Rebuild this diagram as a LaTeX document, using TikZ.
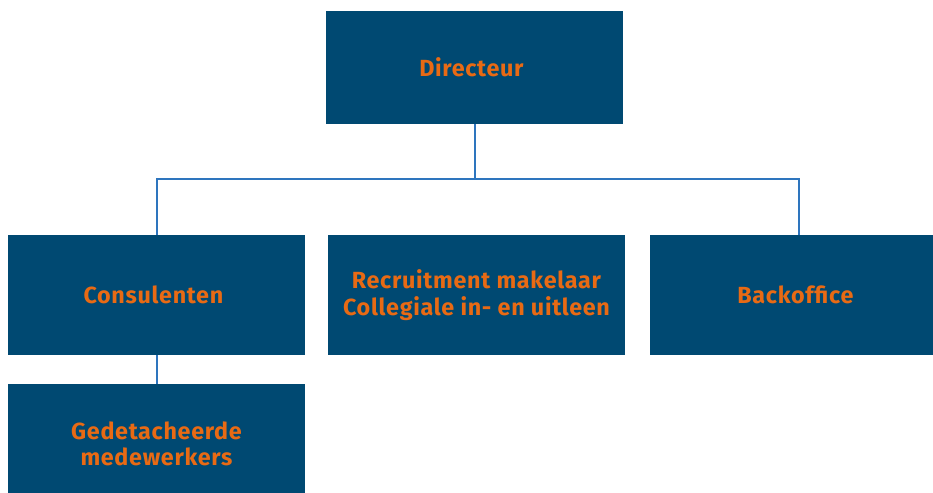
\documentclass[tikz,border=0pt]{standalone}
\usepackage{fontspec}
\setmainfont{Fira Sans}
\definecolor{boxblue}{RGB}{0,73,114}
\definecolor{txtorange}{RGB}{232,106,20}
\definecolor{lineblue}{RGB}{46,117,190}

\begin{document}
\begin{tikzpicture}[x=0.75pt,y=-0.75pt]

% size of each block
\def\bw{222.75pt}
\def\bh{90pt}
% node style definition
\tikzstyle{block} = [
	fill=boxblue, rectangle, text=txtorange, align=center, inner sep=0pt,
	font=\bfseries\fontsize{17.5}{20}\selectfont\addfontfeature{LetterSpace=3},
	minimum height=\bh, minimum width=\bw ];
\tikzstyle{link} = [draw=lineblue, line width=1.5pt];

\clip (0,0) rectangle (933,493);

\node[block, minimum height=84.75pt] (a0) at (474.5,67.5) { Directeur };

\node[block] (b0) at (156.5,295) { Consulenten };
\node[block] (b1) at (476.5,295) { Recruitment makelaar\\Collegiale in- en uitleen };
\node[block] (b2) at (798.5,295) { Backoffice };

\node[block] (c0) at (156.5,444) { Gedetacheerde\\medewerkers };

\draw[link] (a0.south) -- ++(0,55) -| (b0.north);
\draw[link] (a0.south) -- ++(0,55) -| (b2.north);

\draw[link] (b0.south) -- (c0.north);

\end{tikzpicture}
\end{document}
